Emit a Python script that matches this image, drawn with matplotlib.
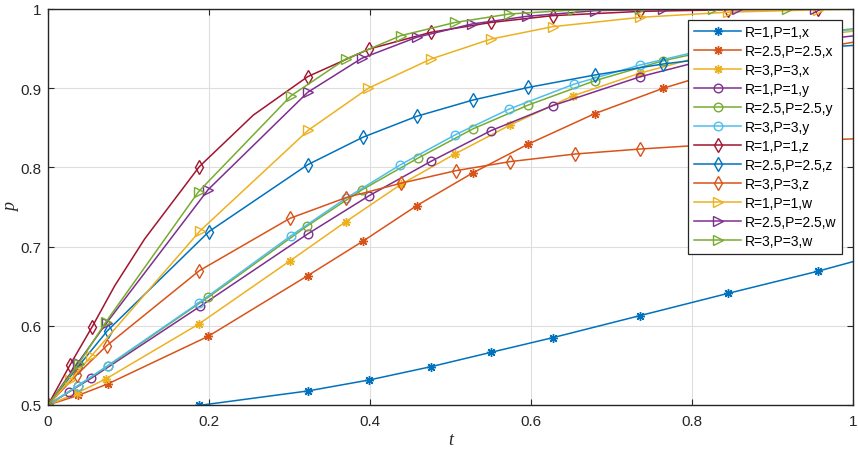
import matplotlib
matplotlib.use("Agg")
import matplotlib.pyplot as plt

# ---------------- data ----------------
labels = ["R=1,P=1,x", "R=2.5,P=2.5,x", "R=3,P=3,x",
          "R=1,P=1,y", "R=2.5,P=2.5,y", "R=3,P=3,y",
          "R=1,P=1,z", "R=2.5,P=2.5,z", "R=3,P=3,z",
          "R=1,P=1,w", "R=2.5,P=2.5,w", "R=3,P=3,w"]

t_x1 = [0, 0.0273, 0.0547, 0.188, 0.3226, 0.399, 0.4758, 0.5503, 0.627, 0.736, 0.845, 0.956, 1.0]
p_x1 = [0.5, 0.494, 0.490, 0.4995, 0.5177, 0.5316, 0.5484, 0.5665, 0.585, 0.613, 0.641, 0.6688, 0.681]

t_x2 = [0, 0.037, 0.074, 0.199, 0.3226, 0.391, 0.458, 0.5276, 0.5967, 0.6795, 0.7644, 0.8555, 0.953, 1.0]
p_x2 = [0.5, 0.512, 0.5265, 0.5867, 0.6633, 0.7067, 0.7517, 0.793, 0.8295, 0.868, 0.900, 0.928, 0.950, 0.958]

t_x3 = [0, 0.036, 0.072, 0.187, 0.3006, 0.370, 0.4385, 0.5056, 0.574, 0.6526, 0.7354, 0.8264, 0.918, 1.0]
p_x3 = [0.5, 0.515, 0.533, 0.602, 0.682, 0.7315, 0.7786, 0.817, 0.8535, 0.8905, 0.919, 0.944, 0.962, 0.972]

t_y1 = [0, 0.0265, 0.054, 0.189, 0.3226, 0.399, 0.4758, 0.5503, 0.627, 0.736, 0.845, 0.956, 1.0]
p_y1 = [0.5, 0.5168, 0.534, 0.6246, 0.716, 0.7643, 0.8077, 0.8464, 0.878, 0.9146, 0.943, 0.961, 0.966]

t_y2 = [0, 0.037, 0.074, 0.199, 0.3213, 0.3897, 0.4592, 0.5276, 0.5967, 0.6795, 0.7644, 0.8555, 0.953, 1.0]
p_y2 = [0.5, 0.524, 0.549, 0.636, 0.7256, 0.7715, 0.8115, 0.8485, 0.8788, 0.9095, 0.9347, 0.955, 0.970, 0.975]

t_y3 = [0, 0.037, 0.074, 0.187, 0.3019, 0.370, 0.4373, 0.5056, 0.573, 0.654, 0.7354, 0.8264, 0.918, 1.0]
p_y3 = [0.5, 0.5244, 0.5496, 0.6288, 0.7138, 0.761, 0.803, 0.841, 0.8737, 0.9053, 0.9293, 0.951, 0.966, 0.974]

t_z1 = [0, 0.0273, 0.055, 0.083, 0.12, 0.188, 0.255, 0.3226, 0.399, 0.4758, 0.5503, 0.627, 0.736, 0.845, 0.956, 1.0]
p_z1 = [0.5, 0.5505, 0.599, 0.6507, 0.7096, 0.801, 0.866, 0.9146, 0.9495, 0.9706, 0.983, 0.9916, 0.997, 0.999, 0.9998, 1.0]

t_z2 = [0, 0.037, 0.074, 0.2, 0.3226, 0.391, 0.458, 0.5276, 0.5967, 0.6795, 0.7644, 0.8555, 0.953, 1.0]
p_z2 = [0.5, 0.548, 0.594, 0.719, 0.8034, 0.838, 0.8645, 0.885, 0.901, 0.9167, 0.9306, 0.942, 0.951, 0.954]

t_z3 = [0, 0.0356, 0.073, 0.188, 0.3006, 0.370, 0.4385, 0.5068, 0.574, 0.6547, 0.7354, 0.8264, 0.918, 1.0]
p_z3 = [0.5, 0.538, 0.575, 0.6696, 0.7357, 0.7618, 0.780, 0.7959, 0.8073, 0.8169, 0.8232, 0.829, 0.833, 0.836]

t_w1 = [0, 0.0273, 0.054, 0.189, 0.3234, 0.398, 0.4758, 0.5503, 0.627, 0.736, 0.845, 0.956, 1.0]
p_w1 = [0.5, 0.531, 0.562, 0.72, 0.847, 0.900, 0.9369, 0.962, 0.9777, 0.9895, 0.996, 0.999, 0.9995]

t_w2 = [0, 0.037, 0.073, 0.199, 0.3226, 0.3897, 0.458, 0.5263, 0.5947, 0.6795, 0.7644, 0.8555, 0.953, 1.0]
p_w2 = [0.5, 0.553, 0.604, 0.772, 0.8948, 0.9377, 0.9643, 0.981, 0.9907, 0.9979, 0.9995, 0.9999, 1.0, 1.0]

t_w3 = [0, 0.038, 0.072, 0.187, 0.3019, 0.370, 0.4381, 0.5056, 0.573, 0.6526, 0.7354, 0.8264, 0.918, 1.0]
p_w3 = [0.5, 0.552, 0.605, 0.7693, 0.8905, 0.9369, 0.9663, 0.983, 0.9937, 0.9987, 0.9997, 0.9999, 1.0, 1.0]

# indices of points carrying markers (red z curve has extra unmarked vertices)
mk_z1 = [0, 1, 2, 5, 7, 8, 9, 10, 11, 12, 13, 14]

xticks = [0, 0.2, 0.4, 0.6, 0.8, 1]
xticklabels = ["0", "0.2", "0.4", "0.6", "0.8", "1"]
yticks = [0.5, 0.6, 0.7, 0.8, 0.9, 1]
yticklabels = ["0.5", "0.6", "0.7", "0.8", "0.9", "1"]

# ---------------- style ----------------
C = ["#0072BD", "#D95319", "#EDB120", "#7E2F8E", "#77AC30", "#4DBEEE", "#A2142F"]
ast = (8, 2, 0)
series = [
    (t_x1, p_x1, C[0], ast, 6.5, None),
    (t_x2, p_x2, C[1], ast, 6.5, None),
    (t_x3, p_x3, C[2], ast, 6.5, None),
    (t_y1, p_y1, C[3], "o", 6.2, None),
    (t_y2, p_y2, C[4], "o", 6.2, None),
    (t_y3, p_y3, C[5], "o", 6.2, None),
    (t_z1, p_z1, C[6], "d", 7.5, mk_z1),
    (t_z2, p_z2, C[0], "d", 7.5, None),
    (t_z3, p_z3, C[1], "d", 7.5, None),
    (t_w1, p_w1, C[2], ">", 6.5, None),
    (t_w2, p_w2, C[3], ">", 6.5, None),
    (t_w3, p_w3, C[4], ">", 6.5, None),
]

plt.rcParams["font.family"] = ["Liberation Sans", "DejaVu Sans"]
fig = plt.figure(figsize=(8.58, 4.52), dpi=100)
ax = fig.add_axes([48 / 858, 1 - 406 / 452, 805 / 858, 396 / 452])

for (t, p, col, mk, ms, me), lab in zip(series, labels):
    if me is None:
        me = list(range(len(t) - 1))
    ax.plot(t, p, color=col, lw=1.1, marker=mk, ms=ms, markevery=me,
            mfc="none", mec=col, mew=1.0, label=lab)

ax.set_xlim(0, 1)
ax.set_ylim(0.5, 1)
ax.set_xticks(xticks)
ax.set_xticklabels(xticklabels)
ax.set_yticks(yticks)
ax.set_yticklabels(yticklabels)
ax.grid(True, color="#dedede", lw=0.8)
ax.set_axisbelow(True)
for s in ax.spines.values():
    s.set_color("#262626")
    s.set_linewidth(1.0)
ax.tick_params(direction="in", length=4, width=0.8, colors="#262626",
               labelsize=11, top=True, right=True)
ax.tick_params(axis="x", pad=6.5)
ax.tick_params(axis="y", pad=4.5)

ax.set_xlabel("t", family=["Liberation Serif"], style="italic", fontsize=13,
              color="#262626", va="center")
ax.xaxis.set_label_coords(0.5, -0.086)
ax.set_ylabel("p", family=["Liberation Serif"], style="italic", fontsize=13,
              color="#262626", va="center")
ax.yaxis.set_label_coords(-0.045, 0.5)

leg = ax.legend(loc="upper right", bbox_to_anchor=(0.986, 0.973),
                borderaxespad=0, fontsize=10, handlelength=3.4,
                handletextpad=0.25, labelspacing=0.36, borderpad=0.4,
                fancybox=False, framealpha=1, edgecolor="#262626")
leg.get_frame().set_linewidth(0.9)

fig.savefig("out.png", dpi=100)
